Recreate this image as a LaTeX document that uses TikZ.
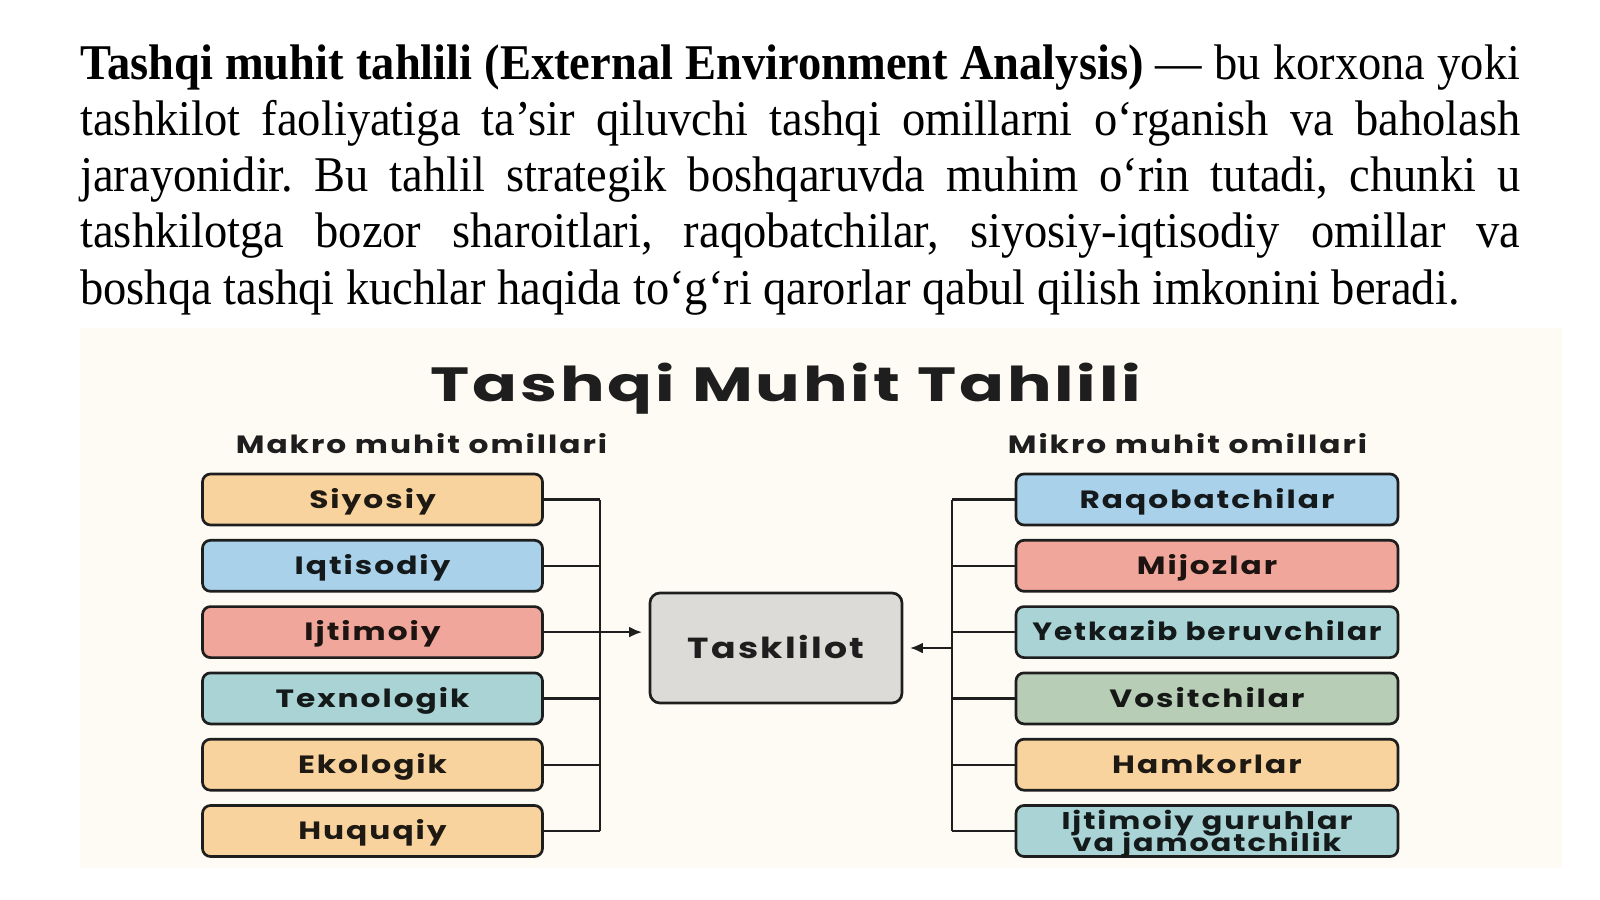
\documentclass[tikz,border=0pt]{standalone}
\usepackage{fontspec}
\usepackage{graphicx}
\setmainfont{Liberation Serif}[FakeStretch=0.93]
\newfontfamily\diafont{Poppins}[FakeStretch=1.25, LetterSpace=8]
\newfontfamily\titlefont{Poppins}[FakeStretch=1.38, LetterSpace=6]
\usepackage{tikz}
\usetikzlibrary{arrows.meta}

\definecolor{bgcream}{HTML}{FEFBF4}
\definecolor{linec}{HTML}{1E1E1E}
\definecolor{orangebox}{HTML}{F8D39D}
\definecolor{bluebox}{HTML}{A9D2EA}
\definecolor{redbox}{HTML}{F0A69A}
\definecolor{tealbox}{HTML}{A9D3D5}
\definecolor{greenbox}{HTML}{B8CDB6}
\definecolor{graybox}{HTML}{DDDBD7}

\begin{document}
\begin{tikzpicture}[x=0.5pt, y=-0.5pt]
    \tikzstyle{factor} = [draw=linec, line width=1.35pt, rounded corners=4pt, inner sep=0pt, align=center,
        minimum width=170pt, minimum height=25.5pt, text height=8.7pt, text depth=0pt,
        font=\diafont\bfseries\fontsize{12.5}{13}\selectfont]
    \tikzstyle{header} = [anchor=base, text=linec, font=\diafont\bfseries\fontsize{12.5}{14}\selectfont]
    \tikzstyle{link} = [draw=linec, line width=1.15pt]
    \tikzstyle{tip} = [-{Latex[length=6.5pt, width=5.5pt]}, shorten >=3.3pt]
    \lineskiplimit=-20pt
    \useasboundingbox (0,0) rectangle (1600,899);
    \fill[bgcream] (80,328) rectangle (1562,868);
    % matn
    \node[anchor=base west, inner sep=0pt, text width=720pt, align=justify,
        font=\fontsize{25}{28}\selectfont] (text) at (80,80)
        {\frenchspacing\hyphenpenalty=10000
        \textbf{Tashqi muhit tahlili (External Environment Analysis)} — bu korxona yoki\linebreak
        tashkilot faoliyatiga ta’sir qiluvchi tashqi omillarni o‘rganish va baholash\linebreak
        jarayonidir. Bu tahlil strategik boshqaruvda muhim o‘rin tutadi, chunki u\linebreak
        tashkilotga bozor sharoitlari, raqobatchilar, siyosiy-iqtisodiy omillar va\linebreak
        boshqa tashqi kuchlar haqida to‘g‘ri qarorlar qabul qilish imkonini beradi.};
    % sarlavhalar
    \node[anchor=base, text=linec, font=\titlefont\bfseries\fontsize{24}{28}\selectfont] (title) at (786,401.7) {Tashqi Muhit Tahlili};
    \node[header] (makro) at (421.5,453) {Makro muhit omillari};
    \node[header] (mikro) at (1187.5,453) {Mikro muhit omillari};
    % makro omillar
    \foreach \name/\col [count=\i] in {Siyosiy/orangebox, Iqtisodiy/bluebox, Ijtimoiy/redbox,
        Texnologik/tealbox, Ekologik/orangebox, Huquqiy/orangebox} {
        \node[factor, fill=\col, text=\col!12!black] (m\i) at (372.5, 433.2+66.3*\i) {\name};
    }
    % mikro omillar
    \foreach \name/\col [count=\i] in {Raqobatchilar/bluebox, Mijozlar/redbox,
        {\scalebox{0.945}[1]{Yetkazib beruvchilar}}/tealbox, Vositchilar/greenbox, Hamkorlar/orangebox} {
        \node[factor, fill=\col, text=\col!12!black, minimum width=191pt] (k\i) at (1207, 433.2+66.3*\i) {\name};
    }
    \node[factor, fill=tealbox, text=tealbox!12!black, minimum width=191pt, text height=,
        font=\diafont\bfseries\fontsize{12.1}{10.9}\selectfont] (k6) at (1207, 831)
        {Ijtimoiy guruhlar\\va jamoatchilik};
    % markaz
    \node[draw=linec, line width=1.35pt, rounded corners=5pt, fill=graybox, minimum width=126pt, minimum height=55pt,
        text height=10.5pt, text depth=0pt, text=linec, font=\diafont\bfseries\fontsize{14.5}{16}\selectfont] (org) at (776,648) {Tasklilot};
    \coordinate (lbus) at (600,0);
    \coordinate (rbus) at (952,0);
    % ulanishlar
    \foreach \i in {1,...,6} {
        \draw[link] (m\i.east) -- (m\i.east -| lbus);
        \draw[link] (k\i.west) -- (k\i.west -| rbus);
    }
    \draw[link] (m1.east -| lbus) -- (m6.east -| lbus);
    \draw[link] (k1.west -| rbus) -- (k6.west -| rbus);
    \draw[link, tip] (m3.east -| lbus) -- (org.west |- m3.east);
    \draw[link, tip] (rbus |- org.east) -- (org.east);
\end{tikzpicture}
\end{document}
